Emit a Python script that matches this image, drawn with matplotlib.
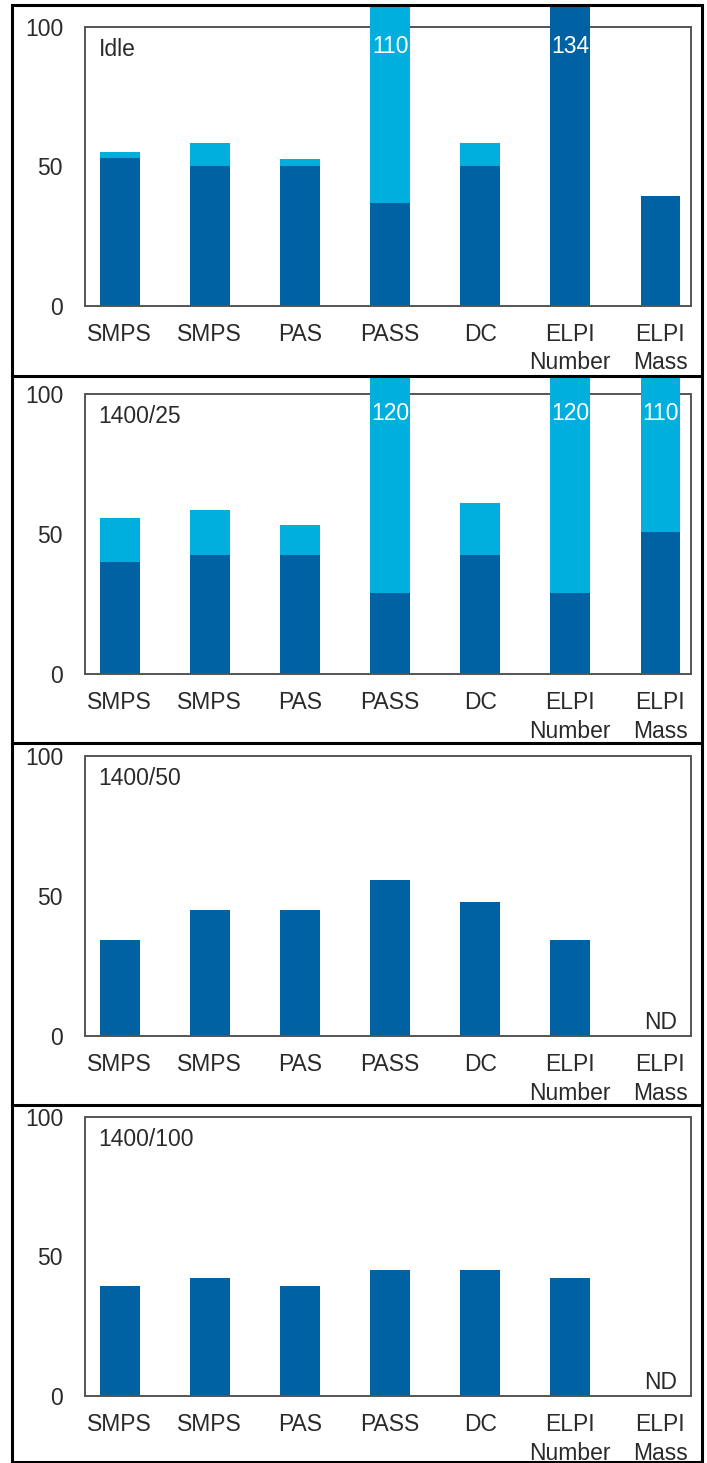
import numpy as np
import matplotlib.pyplot as plt
from matplotlib.lines import Line2D
from matplotlib.patches import Rectangle

plt.rcParams['font.family'] = ['Liberation Sans', 'DejaVu Sans']

# instruments on the x axis
categories = ['SMPS', 'SMPS', 'PAS', 'PASS', 'DC', 'ELPI\nNumber', 'ELPI\nMass']
panel_names = ['Idle', '1400/25', '1400/50', '1400/100']

# dark part of each bar, and total height incl. light part (nan = no light part / no data)
idle_dark = [53, 50, 50, 37, 50, 134, 39.5]
idle_total = [55.3, 58.3, 52.8, 110, 58.3, np.nan, np.nan]
p25_dark = [40, 42.5, 42.5, 29, 42.5, 29, 50.6]
p25_total = [55.6, 58.4, 53.1, 120, 61, 120, 110]
p50_dark = [34.2, 45, 45, 55.7, 47.7, 34.2, np.nan]
p50_total = [np.nan] * 7
p100_dark = [39.5, 42.4, 39.5, 45, 45, 42.4, np.nan]
p100_total = [np.nan] * 7

dark_vals = [idle_dark, p25_dark, p50_dark, p100_dark]
total_vals = [idle_total, p25_total, p50_total, p100_total]

DARK = '#0062a2'
LIGHT = '#00afde'
SPINE = '#555555'
TXT = '#2a2a2a'
FS = 16.5

W, H = 707, 1463
fig = plt.figure(figsize=(W / 100, H / 100), dpi=100)

# panel geometry in pixels: (panel top border, y of 100, y of 0)
geom = [(5, 27.3, 305.6), (376, 394, 674), (743, 755.7, 1036), (1105, 1116.7, 1396)]
ax_left, ax_right = 84.6, 691

x = np.arange(len(categories))
for i in range(4):
    top, y100, y0 = geom[i]
    ax = fig.add_axes([ax_left / W, 1 - y0 / H, (ax_right - ax_left) / W, (y0 - top) / H])
    ax.set_facecolor('none')
    ytop = 100 * (y0 - top) / (y0 - y100)
    ax.set_ylim(0, ytop)
    ax.set_xlim(-0.39, 6.34)

    dark = np.array(dark_vals[i], dtype=float)
    total = np.array(total_vals[i], dtype=float)
    light = np.where(np.isnan(total), 0, total - dark)
    ax.bar(x, np.nan_to_num(dark), width=0.44, color=DARK, zorder=2)
    ax.bar(x, light, bottom=np.nan_to_num(dark), width=0.44, color=LIGHT, zorder=2)

    # frame of the plot area, drawn only up to 100
    for s in ['top', 'right']:
        ax.spines[s].set_visible(False)
    for s in ['left', 'bottom']:
        ax.spines[s].set_color(SPINE)
        ax.spines[s].set_linewidth(1.4)
    ax.spines['left'].set_bounds(0, 100)
    ax.axhline(100, color=SPINE, lw=1.4, zorder=1)
    ax.plot([6.34, 6.34], [0, 100], color=SPINE, lw=1.4, zorder=1, clip_on=False)

    ax.set_yticks([0, 50, 100])
    ax.set_yticklabels(['0', '50', '100'])
    ax.set_yticks([50], minor=True)
    ax.tick_params(axis='y', which='major', length=0, pad=15.5, labelsize=FS, labelcolor=TXT)
    ax.tick_params(axis='y', which='minor', length=9, width=1.4, color=SPINE, labelleft=False)
    ax.set_xticks(x)
    ax.set_xticklabels(categories, linespacing=1.3)
    ax.tick_params(axis='x', length=0, pad=12.5, labelsize=FS, labelcolor=TXT)

    ax.annotate(panel_names[i], xy=(0, 100), xycoords=('axes fraction', 'data'),
                xytext=(14, -11), textcoords='offset pixels', va='top', ha='left',
                fontsize=FS, color=TXT)

    # values of bars running off the scale
    tops = np.where(np.isnan(total), dark, total)
    for xi, v in zip(x, tops):
        if not np.isnan(v) and v > 100:
            ax.annotate('%d' % v, xy=(xi, 100), xytext=(0, -19.5), textcoords='offset pixels',
                        ha='center', va='center', color='white', fontsize=FS)
        if np.isnan(v):
            ax.annotate('ND', xy=(xi, 0), xytext=(0, 7), textcoords='offset pixels',
                        ha='center', va='baseline', color=TXT, fontsize=FS)

# outer frame and separators between panels
def fy(p):
    return 1 - p / H

fig.add_artist(Rectangle((12 / W, fy(1462)), (702 - 12) / W, (1462 - 5) / H,
                         transform=fig.transFigure, fill=False, ec='black', lw=2.2))
for sep in [376, 743, 1105]:
    fig.add_artist(Line2D([12 / W, 702 / W], [fy(sep), fy(sep)], color='black', lw=2.2))

fig.savefig('out.png', dpi=100)
